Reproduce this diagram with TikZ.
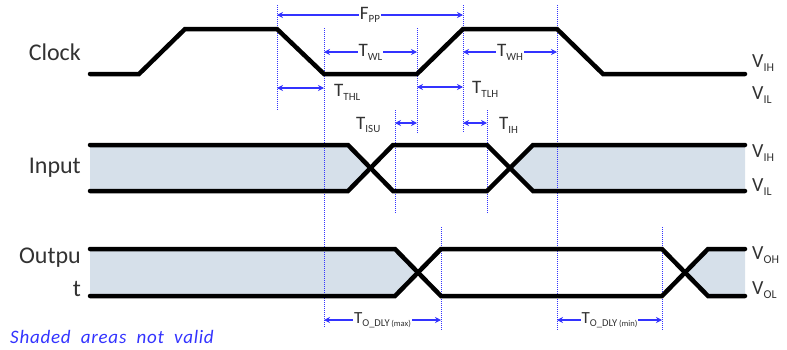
\documentclass[tikz,border=0pt]{standalone}
\usepackage{fontspec}
\setmainfont{Carlito}
\usetikzlibrary{arrows.meta}
\definecolor{dimblue}{RGB}{51,51,255}
\definecolor{shadeblue}{RGB}{214,224,234}
\definecolor{txt}{RGB}{50,50,50}
\newcommand\sigsub[1]{\raisebox{-0.2em}{\fontsize{12}{12}\selectfont #1}}
\newcommand\dimsub[1]{\raisebox{-0.2em}{\fontsize{11}{11}\selectfont #1}}
\newcommand\dlysub[2]{\raisebox{-0.2em}{\fontsize{10.5}{10.5}\selectfont #1\,\fontsize{8.5}{8.5}\selectfont #2}}
\begin{document}
\begin{tikzpicture}[x=1pt,y=-1pt,
  wave/.style={line width=4.5pt,black,line cap=round},
  shadefill/.style={fill=shadeblue,draw=none},
  guide/.style={dimblue,densely dotted,line width=1pt},
  dimarrow/.style={dimblue,line width=1.2pt,{Stealth[length=6pt,width=6pt]}-{Stealth[length=6pt,width=6pt]}},
  dimlabel/.style={fill=white,inner sep=1pt,text=txt,font=\fontsize{19}{19}\selectfont},
  dlylabel/.style={fill=white,inner sep=1pt,text=txt,font=\fontsize{17}{17}\selectfont},
  sidelabel/.style={text=txt,font=\fontsize{19}{19}\selectfont,anchor=west,inner sep=0pt},
  siglabel/.style={text=txt,font=\fontsize{24}{24}\selectfont,anchor=east,inner sep=0pt},
  levlabel/.style={text=txt,font=\fontsize{20}{20}\selectfont,anchor=west,inner sep=0pt},
]
\useasboundingbox (0,0) rectangle (787,349);

% shaded (not valid) areas
\fill[shadefill] (90,145) -- (348,145) -- (370,168) -- (348,191) -- (90,191) -- cycle;
\fill[shadefill] (510,168) -- (533,145) -- (745,145) -- (745,191) -- (533,191) -- cycle;
\fill[shadefill] (90,249) -- (395,249) -- (418,272.5) -- (395,296) -- (90,296) -- cycle;
\fill[shadefill] (685,272.5) -- (708,249) -- (745,249) -- (745,296) -- (708,296) -- cycle;

% guide lines
\coordinate (gA1) at (277,5);   \coordinate (gA2) at (277,110);
\coordinate (gB1) at (324,28);  \coordinate (gB2) at (324,328);
\coordinate (gC1) at (395,110); \coordinate (gC2) at (395,213);
\coordinate (gD1) at (417,28);  \coordinate (gD2) at (417,133);
\coordinate (gE1) at (463,5);   \coordinate (gE2) at (463,133);
\coordinate (gF1) at (487,110); \coordinate (gF2) at (487,213);
\coordinate (gG1) at (557,5);   \coordinate (gG2) at (557,330);
\coordinate (gH1) at (441,227); \coordinate (gH2) at (441,330);
\coordinate (gI1) at (662,227); \coordinate (gI2) at (662,330);
\foreach \g in {A,B,C,D,E,F,G,H,I} \draw[guide] (g\g1) -- (g\g2);

% waveforms
\draw[wave] (90,74) -- (139,74) -- (185,29) -- (277,29) -- (324,74) -- (417,74) -- (463,29) -- (557,29) -- (603,74) -- (745,74);
\draw[wave] (90,145) -- (348,145) -- (393,191) -- (487,191) -- (533,145) -- (745,145);
\draw[wave] (90,191) -- (348,191) -- (393,145) -- (487,145) -- (533,191) -- (745,191);
\draw[wave] (90,249) -- (395,249) -- (441,296) -- (662,296) -- (708,249) -- (745,249);
\draw[wave] (90,296) -- (395,296) -- (441,249) -- (662,249) -- (708,296) -- (745,296);

% dimension arrows
\coordinate (fpL) at (277,15);  \coordinate (fpR) at (463,15);
\coordinate (wlL) at (324,52);  \coordinate (wlR) at (417,52);
\coordinate (whL) at (463,52);  \coordinate (whR) at (557,52);
\coordinate (thlL) at (277,88); \coordinate (thlR) at (324,88);
\coordinate (tlhL) at (417,87); \coordinate (tlhR) at (463,87);
\coordinate (isuL) at (395,123);\coordinate (isuR) at (417,123);
\coordinate (ihL) at (463,123); \coordinate (ihR) at (487,123);
\coordinate (dmaxL) at (324,320); \coordinate (dmaxR) at (441,320);
\coordinate (dminL) at (557,320); \coordinate (dminR) at (662,320);

\draw[dimarrow] (fpL) -- node[dimlabel] (fpp) {F\dimsub{PP}} (fpR);
\draw[dimarrow] (wlL) -- node[dimlabel] (twl) {T\dimsub{WL}} (wlR);
\draw[dimarrow] (whL) -- node[dimlabel] (twh) {T\dimsub{WH}} (whR);
\draw[dimarrow] (thlL) -- (thlR);
\draw[dimarrow] (tlhL) -- (tlhR);
\draw[dimarrow] (isuL) -- (isuR);
\draw[dimarrow] (ihL) -- (ihR);
\draw[dimarrow] (dmaxL) -- node[dlylabel] (dmax) {T\dlysub{O\_DLY}{(max)}} (dmaxR);
\draw[dimarrow] (dminL) -- node[dlylabel] (dmin) {T\dlysub{O\_DLY}{(min)}} (dminR);

\node[sidelabel] (tthl) at (334,92) {T\dimsub{THL}};
\node[sidelabel] (ttlh) at (472,89) {T\dimsub{TLH}};
\node[sidelabel] (tisu) at (356,125) {T\dimsub{ISU}};
\node[sidelabel] (tih)  at (499,125) {T\dimsub{IH}};

% signal names
\node[siglabel] (clk) at (81,52) {Clock};
\node[siglabel] (inp) at (81,168) {Input};
\node[siglabel] (out1) at (81,258) {Outpu};
\node[siglabel] (out2) at (81,289) {t};

% levels
\node[levlabel] (vih1) at (752,63) {V\sigsub{IH}};
\node[levlabel] (vil1) at (752,95) {V\sigsub{IL}};
\node[levlabel] (vih2) at (752,153) {V\sigsub{IH}};
\node[levlabel] (vil2) at (752,187) {V\sigsub{IL}};
\node[levlabel] (voh) at (752,255) {V\sigsub{OH}};
\node[levlabel] (vol) at (752,290) {V\sigsub{OL}};

\node[anchor=west,inner sep=0pt,text=dimblue,font=\fontsize{19}{19}\selectfont\itshape\addfontfeatures{LetterSpace=4}] (note) at (10,337) {Shaded\ \ areas\ \ not\ \ valid};
\end{tikzpicture}
\end{document}
